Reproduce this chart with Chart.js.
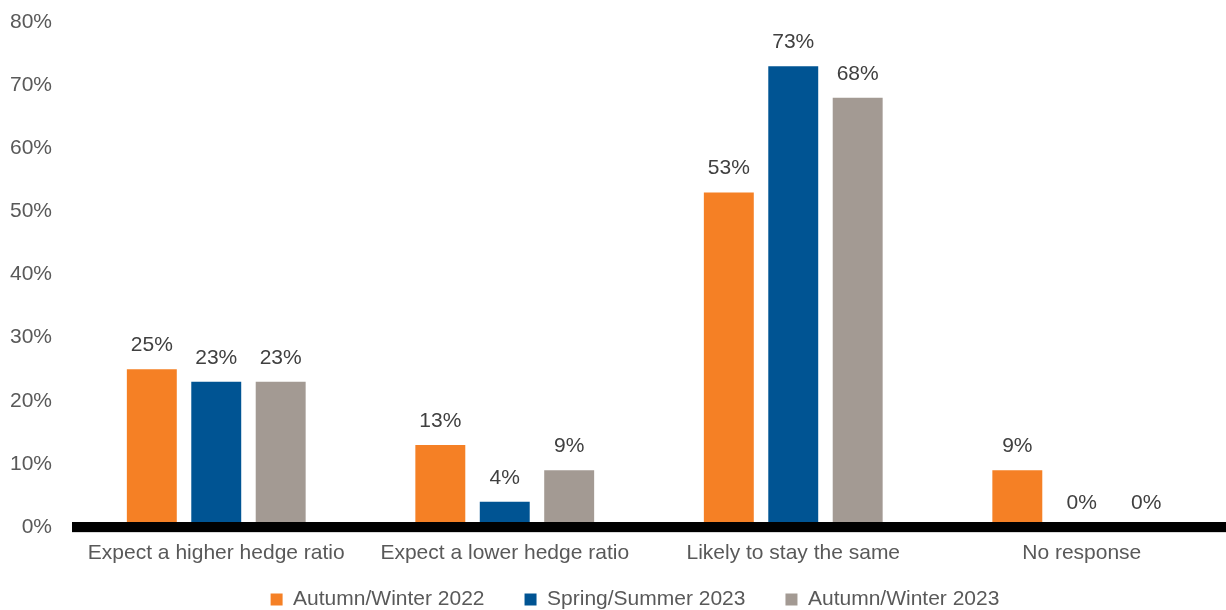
<!DOCTYPE html>
<html>
<head>
<meta charset="utf-8">
<script src="https://cdn.jsdelivr.net/npm/chart.js@4.4.0/dist/chart.umd.min.js"></script>
<style>
  html, body { margin: 0; padding: 0; background: #fff; }
  #wrap { width: 1226px; height: 610px; }
</style>
</head>
<body>
<div id="wrap"><canvas id="myChart"></canvas></div>
<script>
// DATOS DEL GRAFICO
const categories = [
  "Expect a higher hedge ratio",
  "Expect a lower hedge ratio",
  "Likely to stay the same",
  "No response",
];
const seriesNames = ["Autumn/Winter 2022", "Spring/Summer 2023", "Autumn/Winter 2023"];
const autumnWinter2022 = [25, 13, 53, 9];
const springSummer2023 = [23, 4, 73, 0];
const autumnWinter2023 = [23, 9, 68, 0];
const yTicks = [0, 10, 20, 30, 40, 50, 60, 70, 80];

const colors = ["#F58025", "#005493", "#A39A93"];
const FONT = "'Liberation Sans', Arial, sans-serif";

// PLUGIN PARA LA LINEA BASE, LAS ETIQUETAS DE VALOR Y LA POSICION DE LA LEYENDA
const baseLine = {
  id: "baseLine",
  afterInit(chart) {
    const legend = chart.legend;
    const origFit = legend.fit;
    legend.fit = function () {
      origFit.call(this);
      this.height = 38;
    };
  },
  afterLayout(chart) {
    // agrandar la caja de la leyenda hacia arriba (padding de 40px)
    const l = chart.legend;
    l.top = chart.height - 61;
    l.bottom = chart.height + 2;
    l.height = l.bottom - l.top;
    l.left += 22;
    l.right += 22;
  },
  afterDatasetsDraw(chart) {
    const { ctx, chartArea } = chart;
    ctx.save();
    // linea negra gruesa centrada en el cero
    ctx.fillStyle = "#000";
    ctx.fillRect(chartArea.left, chartArea.bottom - 5, chartArea.right - chartArea.left, 10);
    ctx.fillStyle = "#d9d9d9";
    ctx.fillRect(chartArea.left, chartArea.bottom + 5, chartArea.right - chartArea.left, 1);
    ctx.font = "21px " + FONT;
    ctx.fillStyle = "#404040";
    ctx.textAlign = "center";
    ctx.textBaseline = "middle";
    chart.data.datasets.forEach((ds, i) => {
      chart.getDatasetMeta(i).data.forEach((bar, j) => {
        ctx.fillText(ds.data[j] + "%", bar.x, bar.y - 24);
      });
    });
    ctx.restore();
  },
};

const canvas = document.getElementById("myChart");
const myChart = new Chart(canvas, {
  type: "bar",
  data: {
    labels: categories,
    datasets: [autumnWinter2022, springSummer2023, autumnWinter2023].map((d, i) => ({
      label: seriesNames[i],
      data: d,
      backgroundColor: colors[i],
      barPercentage: 0.775,
      categoryPercentage: 0.67,
    })),
  },
  options: {
    responsive: true,
    maintainAspectRatio: false,
    animation: false,
    layout: { padding: { top: 22, right: 0, left: 0, bottom: 0 } },
    plugins: {
      tooltip: { enabled: false },
      legend: {
        position: "bottom",
        labels: {
          boxWidth: 12,
          boxHeight: 12,
          padding: 40,
          color: "#595959",
          font: { family: FONT, size: 21 },
        },
      },
    },
    scales: {
      x: {
        grid: { display: false, drawTicks: false },
        border: { display: false },
        ticks: { color: "#595959", font: { family: FONT, size: 21 }, padding: 14 },
        afterFit: (scale) => {
          scale.height = 45;
          scale.paddingLeft = 0;
          scale.paddingRight = 0;
        },
      },
      y: {
        min: 0,
        max: 80,
        grid: { display: false, drawTicks: false },
        border: { display: false },
        afterBuildTicks: (scale) => { scale.ticks = yTicks.map((v) => ({ value: v })); },
        ticks: {
          color: "#595959",
          font: { family: FONT, size: 21 },
          padding: 20,
          callback: (v) => v + "%",
        },
        afterFit: (scale) => {
          scale.width = 72;
          scale.paddingTop = 0;
          scale.paddingBottom = 0;
        },
      },
    },
  },
  plugins: [baseLine],
});
</script>
</body>
</html>
